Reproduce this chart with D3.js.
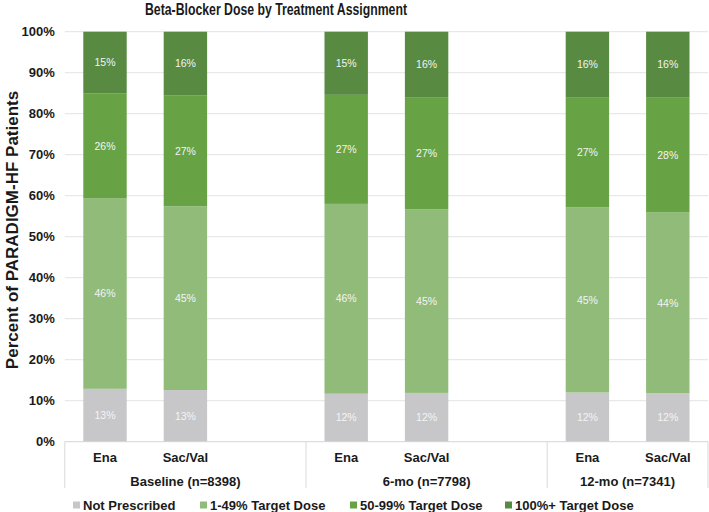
<!DOCTYPE html>
<html>
<head>
<meta charset="utf-8">
<script src="https://cdn.jsdelivr.net/npm/d3@7"></script>
<style>
  html, body { margin: 0; padding: 0; background: #fff; }
  svg { display: block; font-family: "Liberation Sans", Arial, Helvetica, sans-serif; }
</style>
</head>
<body>
<svg id="chart" width="709" height="512"></svg>
<script>
// ---- data ----
const title = "Beta-Blocker Dose by Treatment Assignment";
const yTitle = "Percent of PARADIGM-HF Patients";
const groups = ["Baseline (n=8398)", "6-mo (n=7798)", "12-mo (n=7341)"];
const arms = ["Ena", "Sac/Val"];
const seriesNames = ["Not Prescribed", "1-49% Target Dose", "50-99% Target Dose", "100%+ Target Dose"];
const notPrescribed = [12.9, 12.6, 11.7, 11.9, 12.0, 11.8];
const dose1to49     = [46.4, 44.8, 46.3, 44.8, 45.2, 44.1];
const dose50to99    = [25.7, 27.0, 26.6, 27.2, 26.7, 28.0];
const dose100plus   = [15.0, 15.6, 15.4, 16.1, 16.1, 16.1];
const yTicks = [0, 10, 20, 30, 40, 50, 60, 70, 80, 90, 100];
const colors = ["#c7c7c9", "#91bb79", "#67a345", "#588a41"];

// ---- build rows ----
const series = [notPrescribed, dose1to49, dose50to99, dose100plus];
const rows = [];
groups.forEach((g, gi) => arms.forEach((a, ai) => {
  const i = gi * arms.length + ai;
  const r = { key: gi + "|" + a, group: g, arm: a };
  seriesNames.forEach((s, si) => r[s] = series[si][i]);
  rows.push(r);
}));
const slots = [];
groups.forEach((g, gi) => {
  arms.forEach(a => slots.push(gi + "|" + a));
  if (gi < groups.length - 1) slots.push(gi + "|gap");
});

const svg = d3.select("#chart");
const pLeft = 64.8, pRight = 708, pTop = 31.7, pBottom = 441.7;

const x = d3.scaleBand().domain(slots).range([pLeft, pRight])
  .paddingInner(0.46).paddingOuter(0.23);
const y = d3.scaleLinear().domain([0, 100]).range([pBottom, pTop]);

// gridlines
svg.append("g").selectAll("line").data(yTicks.filter(d => d > 0)).join("line")
  .attr("x1", pLeft).attr("x2", pRight)
  .attr("y1", d => y(d)).attr("y2", d => y(d))
  .attr("stroke", "#e3e3e3").attr("stroke-width", 1);

// y tick labels
const yAxis = d3.axisLeft(y).tickValues(yTicks).tickFormat(d => d + "%").tickSize(0).tickPadding(10);
const yg = svg.append("g").attr("transform", `translate(${pLeft},0)`).call(yAxis);
yg.select(".domain").remove();
yg.selectAll("text").attr("font-size", 13).attr("font-weight", "bold").attr("fill", "#1a1a1a")
  .attr("font-family", "'Liberation Sans', Arial, sans-serif");

// stacked bars
const stack = d3.stack().keys(seriesNames)(rows);
const layer = svg.append("g").selectAll("g").data(stack).join("g")
  .attr("fill", (d, i) => colors[i]);
layer.selectAll("rect").data(d => d).join("rect")
  .attr("x", d => x(d.data.key))
  .attr("width", x.bandwidth())
  .attr("y", d => y(d[1]))
  .attr("height", d => y(d[0]) - y(d[1]));
layer.selectAll("text").data(d => d).join("text")
  .attr("x", d => x(d.data.key) + x.bandwidth() / 2)
  .attr("y", d => (y(d[0]) + y(d[1])) / 2)
  .attr("dy", "0.35em")
  .attr("text-anchor", "middle")
  .attr("font-size", 10.5)
  .attr("fill", "#f4f4f4")
  .text(d => Math.round(d[1] - d[0]) + "%");

// x axis baseline
svg.append("line").attr("x1", pLeft).attr("x2", pRight).attr("y1", pBottom).attr("y2", pBottom)
  .attr("stroke", "#d6d6d6").attr("stroke-width", 1);

// group separators
const sepX = [pLeft];
groups.forEach((g, gi) => {
  const last = slots.filter(s => s.startsWith(gi + "|")).slice(-1)[0];
  sepX.push(x(last) - x.step() * x.paddingInner() / 2 + x.step());
});
svg.append("g").selectAll("line").data(sepX).join("line")
  .attr("x1", d => d).attr("x2", d => d).attr("y1", pBottom).attr("y2", 488)
  .attr("stroke", "#d9d9d9").attr("stroke-width", 1);

// arm labels
svg.append("g").selectAll("text").data(rows).join("text")
  .attr("x", d => x(d.key) + x.bandwidth() / 2)
  .attr("y", 457).attr("dy", "0.35em")
  .attr("text-anchor", "middle").attr("font-size", 13).attr("font-weight", "bold")
  .attr("fill", "#1a1a1a")
  .text(d => d.arm);

// group labels
svg.append("g").selectAll("text").data(groups).join("text")
  .attr("x", (d, i) => (sepX[i] + sepX[i + 1]) / 2)
  .attr("y", 481).attr("dy", "0.35em")
  .attr("text-anchor", "middle").attr("font-size", 13).attr("font-weight", "bold")
  .attr("fill", "#1a1a1a")
  .text(d => d);

// title
svg.append("text").attr("x", 276).attr("y", 9).attr("dy", "0.35em")
  .attr("text-anchor", "middle").attr("font-size", 16).attr("font-weight", "bold")
  .attr("textLength", 262).attr("lengthAdjust", "spacingAndGlyphs")
  .attr("fill", "#1a1a1a")
  .text(title);

// y title
svg.append("text").attr("transform", `translate(12,230) rotate(-90)`).attr("dy", "0.35em")
  .attr("text-anchor", "middle").attr("font-size", 17).attr("font-weight", "bold")
  .attr("fill", "#1a1a1a")
  .text(yTitle);

// legend
const legendX = [73, 200, 350, 505];
const lg = svg.append("g").selectAll("g").data(seriesNames).join("g")
  .attr("transform", (d, i) => `translate(${legendX[i]},505)`);
lg.append("rect").attr("x", 0).attr("y", -3.5).attr("width", 7).attr("height", 7)
  .attr("fill", (d, i) => colors[i]);
lg.append("text").attr("x", 10).attr("dy", "0.35em").attr("font-size", 13).attr("font-weight", "bold")
  .attr("fill", "#1a1a1a").text(d => d);
</script>
</body>
</html>
